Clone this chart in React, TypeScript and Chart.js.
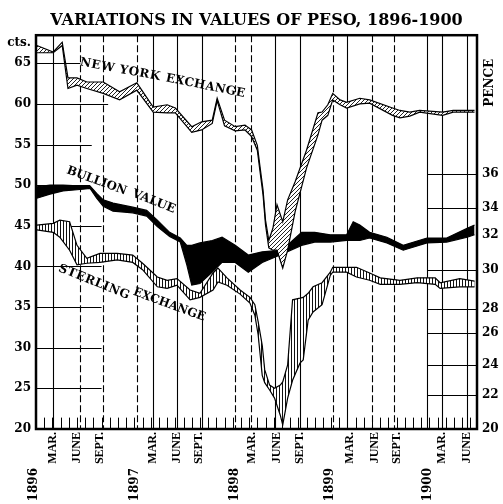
import { useEffect, useRef } from 'react';
import { Chart, registerables } from 'chart.js';
Chart.register(...registerables);

// ---- data (x = months since Jan 1896, y = U.S. cents) ----
const nyMonths = [0.1,2.1,3.2,3.9,5.0,6.2,8.2,10.2,12.3,14.3,16.0,17.0,19.0,20.2,21.5,22.1,23.0,24.3,25.5,26.3,27.0,27.3,27.7,28.0,28.4,28.9,29.4,30.1,30.7,31.6,33.0,34.4,34.9,35.6,36.2,37.1,37.9,39.5,40.7,43.5,44.4,45.6,46.8,49.6,50.9,53.5];
const nyHigh = [67.2,66.4,67.6,63.2,63.2,62.7,62.7,61.5,62.6,59.6,59.9,59.5,57.2,57.8,58.0,60.7,58.0,57.2,57.4,56.8,54.9,52.5,49.4,45.7,43.2,44.7,47.6,45.5,48.2,50.4,54.3,58.9,59.0,59.9,61.3,60.5,60.2,60.7,60.5,59.5,59.2,59.0,59.2,59.0,59.2,59.2];
const nyLow = [66.3,66.3,67.2,61.9,62.3,61.9,61.3,60.5,61.7,59.0,58.9,58.9,56.5,56.8,57.6,60.4,57.3,56.7,56.8,56.0,54.3,51.9,48.8,45.1,42.3,42.0,42.0,39.8,42.0,46.7,52.1,56.2,58.0,58.6,60.5,59.9,59.5,60.0,60.1,58.6,58.3,58.5,59.0,58.6,59.0,59.0];

const bullMonths = [0.1,1.7,3.3,5.7,6.6,7.4,8.2,9.4,11.8,13.5,14.8,16.3,17.6,18.4,19.0,20.0,21.5,22.7,24.3,25.9,27.6,30.0,32.4,34.0,35.9,37.9,38.7,39.5,40.7,42.8,44.8,47.7,50.1,52.6,53.5];
const bullHigh = [49.8,50.0,50.0,49.9,49.9,49.0,48.2,47.8,47.3,46.9,45.7,44.2,43.5,42.6,42.6,42.9,43.2,43.6,42.6,41.4,41.8,42.0,44.2,44.2,43.9,43.9,45.5,45.1,44.2,43.6,42.6,43.5,43.5,44.7,45.1];
const bullLow = [48.4,48.9,49.3,49.5,49.6,48.4,47.4,46.8,46.6,46.2,44.9,43.7,43.0,40.2,37.7,37.9,39.3,40.5,40.5,39.3,40.5,41.5,42.6,43.0,43.0,43.2,43.2,43.2,43.5,42.9,42.0,42.9,43.0,43.6,43.9];

const stMonths = [0.1,2.1,2.9,4.1,5.0,6.2,7.8,9.9,11.8,13.0,14.8,16.0,17.2,18.8,20.0,21.6,22.2,23.3,24.9,26.1,26.7,27.1,27.6,27.9,28.5,29.1,29.8,30.1,30.7,31.3,32.2,32.6,33.2,33.8,34.9,35.9,36.2,37.9,39.1,40.7,42.0,44.4,46.5,48.7,49.3,51.7,53.5];
const stHigh = [45.1,45.3,45.7,45.5,42.6,41.0,41.6,41.6,41.4,40.4,38.7,38.3,38.5,37.1,36.7,39.2,39.8,38.6,37.1,36.2,35.3,33.2,30.3,27.3,25.4,25.0,25.4,25.8,27.9,35.9,36.1,36.2,36.7,37.5,38.0,39.3,39.9,39.9,39.9,39.2,38.6,38.3,38.6,38.6,38.0,38.5,38.2];
const stLow = [44.5,44.2,43.6,42.0,40.2,40.4,40.5,40.8,40.5,39.6,37.5,37.3,37.7,35.9,36.2,37.1,38.1,37.7,36.6,35.5,34.0,31.6,26.6,25.7,24.8,23.8,21.7,20.5,23.8,26.0,28.1,28.5,33.4,34.4,35.3,38.9,39.3,39.3,38.7,38.3,37.8,37.8,38.0,37.8,37.3,37.5,37.5];

// ---- axes / ticks ----
const xMin = 0;
const xMax = 53.8;
const yMin = 20;
const yMax = 68.46;
const leftTicks = [20, 25, 30, 35, 40, 45, 50, 55, 60, 65];
const ctsPos = 67.5;
const rightTickPence = [36, 34, 32, 30, 28, 26, 24, 22, 20];
const rightTickCents = [51.4, 47.2, 43.9, 39.6, 34.8, 31.8, 27.9, 24.2, 20];
const monthTickPos = [2.1, 5.0, 7.8, 14.3, 17.2, 19.9, 26.3, 29.4, 32.2, 38.3, 41.3, 44.0, 49.5, 52.6];
const monthTickLabels = ['MAR.', 'JUNE', 'SEPT.', 'MAR.', 'JUNE', 'SEPT.', 'MAR.', 'JUNE', 'SEPT.', 'MAR.', 'JUNE', 'SEPT.', 'MAR.', 'JUNE'];
const yearTickPos = [-0.2, 12.1, 24.3, 35.9, 47.8];
const yearTickLabels = ['1896', '1897', '1898', '1899', '1900'];
const gridMonths = [2.1, 5.4, 8.2, 12.3, 14.3, 17.2, 20.2, 24.3, 26.2, 29.1, 32.2, 36.2, 38.0, 41.0, 43.7, 47.7, 49.5, 52.6];
const leftGridCents = [25, 30, 35, 40, 45, 50, 55, 60, 65];
const leftGridTo = [8.0, 8.0, 8.0, 8.0, 8.0, 6.6, 6.8, 8.8, 5.4];
const rightGridCents = [51.4, 47.2, 39.6, 34.8, 31.8, 27.9, 24.2];
const rightGridFrom = 47.7;

const bandLabels = [
  { text: 'NEW YORK', m1: 5.37, c1: 65.14, m2: 15.12, c2: 63.3 },
  { text: 'EXCHANGE', m1: 15.85, c1: 63.18, m2: 25.49, c2: 61.21 },
  { text: 'BULLION', m1: 3.78, c1: 51.86, m2: 11.0, c2: 49.2 },
  { text: 'VALUE', m1: 11.8, c1: 49.0, m2: 16.95, c2: 46.94 },
  { text: 'STERLING', m1: 2.8, c1: 39.81, m2: 11.34, c2: 36.36 },
  { text: 'EXCHANGE', m1: 11.9, c1: 36.9, m2: 20.61, c2: 33.66 },
];

const SERIF = '"DejaVu Serif", "Liberation Serif", serif';
const NARROW = '"Liberation Serif", "DejaVu Serif", serif';

function pts(xs: number[], ys: number[]) {
  return xs.map((x, i) => ({ x, y: ys[i] }));
}

function makePattern(kind: 'diag' | 'vert'): CanvasPattern | string {
  const c = document.createElement('canvas');
  const size = kind === 'diag' ? 4 : 3;
  c.width = size;
  c.height = size;
  const g = c.getContext('2d');
  if (!g) return '#888';
  g.fillStyle = '#fff';
  g.fillRect(0, 0, size, size);
  g.strokeStyle = '#222';
  g.lineWidth = 1;
  if (kind === 'diag') {
    g.beginPath();
    g.moveTo(0, size);
    g.lineTo(size, 0);
    g.moveTo(-1, 1);
    g.lineTo(1, -1);
    g.moveTo(size - 1, size + 1);
    g.lineTo(size + 1, size - 1);
    g.stroke();
  } else {
    g.fillStyle = '#111';
    g.fillRect(0, 0, 1, size);
  }
  const p = g.createPattern(c, 'repeat');
  return p || '#888';
}

const dashedGrid = [1, 2, 3, 7, 8, 11, 13, 14];

const decorPlugin = {
  id: 'decor',
  beforeDatasetsDraw(chart: any) {
    const { ctx, chartArea: a, scales } = chart;
    const x = scales.x;
    const y = scales.y;
    ctx.save();
    ctx.strokeStyle = '#000';
    ctx.lineWidth = 1.1;
    gridMonths.forEach((m, i) => {
      const px = Math.round(x.getPixelForValue(m)) + 0.5;
      ctx.setLineDash(dashedGrid.includes(i) ? [7, 3] : []);
      ctx.beginPath();
      ctx.moveTo(px, a.top);
      ctx.lineTo(px, a.bottom);
      ctx.stroke();
    });
    ctx.setLineDash([]);
    ctx.lineWidth = 1.2;
    leftGridCents.forEach((c, i) => {
      const py = Math.round(y.getPixelForValue(c)) + 0.5;
      ctx.beginPath();
      ctx.moveTo(a.left, py);
      ctx.lineTo(x.getPixelForValue(leftGridTo[i]), py);
      ctx.stroke();
    });
    rightGridCents.forEach((c) => {
      const py = Math.round(y.getPixelForValue(c)) + 0.5;
      ctx.beginPath();
      ctx.moveTo(x.getPixelForValue(rightGridFrom), py);
      ctx.lineTo(a.right, py);
      ctx.stroke();
    });
    // monthly minor ticks along the base
    ctx.lineWidth = 1;
    for (let m = 1; m < 54; m++) {
      const px = Math.round(x.getPixelForValue(m)) + 0.5;
      ctx.beginPath();
      ctx.moveTo(px, a.bottom);
      ctx.lineTo(px, y.getPixelForValue(21.4));
      ctx.stroke();
    }
    ctx.restore();
  },
  afterDatasetsDraw(chart: any) {
    const { ctx, chartArea: a, scales } = chart;
    const x = scales.x;
    const y = scales.y;
    ctx.save();
    ctx.fillStyle = '#000';
    ctx.font = `bold 12px ${SERIF}`;
    ctx.textAlign = 'left';
    ctx.textBaseline = 'middle';
    bandLabels.forEach((l) => {
      const x1 = x.getPixelForValue(l.m1);
      const y1 = y.getPixelForValue(l.c1);
      const x2 = x.getPixelForValue(l.m2);
      const y2 = y.getPixelForValue(l.c2);
      const ang = Math.atan2(y2 - y1, x2 - x1);
      const len = Math.hypot(x2 - x1, y2 - y1);
      ctx.save();
      ctx.translate(x1, y1);
      ctx.rotate(ang);
      (ctx as any).letterSpacing = '0px';
      const w = ctx.measureText(l.text).width;
      const n = l.text.length;
      const sp = n > 1 ? (len - w) / (n - 1) : 0;
      if (sp > 0) {
        (ctx as any).letterSpacing = `${sp.toFixed(2)}px`;
      } else {
        ctx.scale(len / w, 1);
      }
      ctx.fillText(l.text, 0, 0);
      ctx.restore();
    });
    (ctx as any).letterSpacing = '0px';
    // frame
    ctx.strokeStyle = '#000';
    ctx.lineWidth = 2.5;
    ctx.strokeRect(a.left, a.top, a.right - a.left, a.bottom - a.top);
    // PENCE
    ctx.save();
    ctx.font = `bold 12px ${SERIF}`;
    ctx.translate(a.right + 13, y.getPixelForValue(62.6));
    ctx.rotate(-Math.PI / 2);
    ctx.textAlign = 'center';
    ctx.textBaseline = 'middle';
    ctx.fillText('PENCE', 0, 0);
    ctx.restore();
    ctx.restore();
  },
};

export default function App() {
  const ref = useRef<HTMLCanvasElement>(null);
  useEffect(() => {
    if (!ref.current) return;
    const diag = makePattern('diag');
    const vert = makePattern('vert');
    const line = { borderColor: '#000', borderWidth: 1.2, pointRadius: 0, tension: 0 };
    const tickFont = { family: SERIF, weight: 'bold' as const, size: 12 };
    const noGrid = { display: false, drawTicks: false, tickLength: 0 };
    const chart = new Chart(ref.current, {
      type: 'line',
      data: {
        datasets: [
          { ...line, label: 'NY high', data: pts(nyMonths, nyHigh), fill: false },
          { ...line, label: 'NY low', data: pts(nyMonths, nyLow), fill: '-1', backgroundColor: diag },
          { ...line, label: 'Bullion high', data: pts(bullMonths, bullHigh), fill: false },
          { ...line, label: 'Bullion low', data: pts(bullMonths, bullLow), fill: '-1', backgroundColor: '#000' },
          { ...line, label: 'Sterling high', data: pts(stMonths, stHigh), fill: false },
          { ...line, label: 'Sterling low', data: pts(stMonths, stLow), fill: '-1', backgroundColor: vert },
        ] as any,
      },
      options: {
        animation: false,
        responsive: true,
        maintainAspectRatio: false,
        layout: { padding: 0 },
        plugins: {
          legend: { display: false },
          tooltip: { enabled: false },
          title: {
            display: true,
            text: 'VARIATIONS IN VALUES OF PESO, 1896-1900',
            color: '#000',
            font: { family: SERIF, weight: 'bold', size: 16 },
            padding: { top: 11, bottom: 5 },
            fullSize: false,
          },
        },
        scales: {
          x: {
            type: 'linear',
            position: 'bottom',
            min: xMin,
            max: xMax,
            weight: 0,
            grid: noGrid,
            border: { display: false },
            afterBuildTicks: (s: any) => {
              s.ticks = monthTickPos.map((v) => ({ value: v }));
            },
            afterFit: (s: any) => {
              s.height = 38;
            },
            ticks: {
              autoSkip: false,
              minRotation: 90,
              maxRotation: 90,
              padding: 3,
              color: '#000',
              font: { family: NARROW, weight: 'bold', size: 12 },
              callback: (_v: any, i: number) => monthTickLabels[i],
            },
          },
          xYear: {
            type: 'linear',
            position: 'bottom',
            min: xMin,
            max: xMax,
            weight: 1,
            grid: noGrid,
            border: { display: false },
            afterBuildTicks: (s: any) => {
              s.ticks = yearTickPos.map((v) => ({ value: v }));
            },
            afterFit: (s: any) => {
              s.height = 37;
            },
            ticks: {
              autoSkip: false,
              minRotation: 90,
              maxRotation: 90,
              padding: 1,
              color: '#000',
              font: { family: SERIF, weight: 'bold', size: 12 },
              callback: (_v: any, i: number) => yearTickLabels[i],
            },
          },
          y: {
            type: 'linear',
            position: 'left',
            min: yMin,
            max: yMax,
            grid: noGrid,
            border: { display: false },
            afterBuildTicks: (s: any) => {
              s.ticks = [...leftTicks, ctsPos].map((v) => ({ value: v }));
            },
            afterFit: (s: any) => {
              s.width = 36;
            },
            ticks: {
              padding: 5,
              color: '#000',
              font: tickFont,
              callback: (v: any) => (v === ctsPos ? 'cts.' : String(v)),
            },
          },
          y2: {
            type: 'linear',
            position: 'right',
            min: yMin,
            max: yMax,
            grid: noGrid,
            border: { display: false },
            afterBuildTicks: (s: any) => {
              s.ticks = rightTickCents.map((v) => ({ value: v }));
            },
            afterFit: (s: any) => {
              s.width = 26;
            },
            ticks: {
              padding: 5,
              color: '#000',
              font: tickFont,
              callback: (_v: any, i: number) => String(rightTickPence[i]),
            },
          },
        },
      } as any,
      plugins: [decorPlugin],
    });
    return () => chart.destroy();
  }, []);
  return (
    <div style={{ position: 'absolute', left: 0, top: 0, width: 503, height: 504, background: '#fff' }}>
      <canvas ref={ref} />
    </div>
  );
}
